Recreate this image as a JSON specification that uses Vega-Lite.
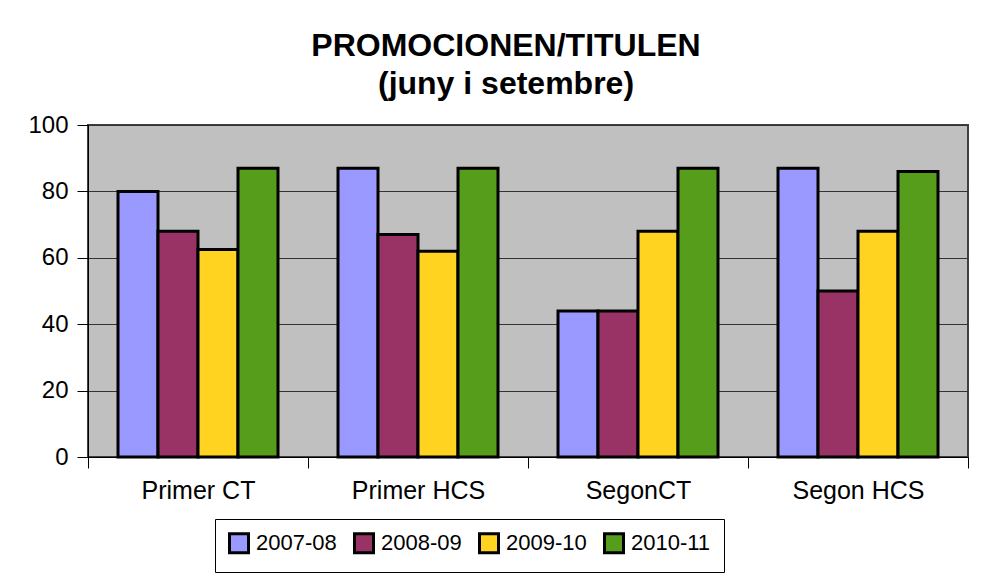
{
  "$schema": "https://vega.github.io/schema/vega-lite/v6.json",
  "width": 880,
  "height": 332,
  "autosize": {"type": "none"},
  "padding": {"left": 88, "top": 125, "right": 28, "bottom": 122},
  "background": "white",
  "title": {
    "text": ["PROMOCIONEN/TITULEN", "(juny i setembre)"],
    "font": "Liberation Sans",
    "fontSize": 32,
    "fontWeight": "bold",
    "lineHeight": 38,
    "color": "black",
    "anchor": "middle",
    "dx": -22,
    "offset": 12
  },
  "data": {
    "values": [
      {"cat": "Primer CT", "series": "2007-08", "value": 80},
      {"cat": "Primer CT", "series": "2008-09", "value": 68},
      {"cat": "Primer CT", "series": "2009-10", "value": 62.5},
      {"cat": "Primer CT", "series": "2010-11", "value": 87},
      {"cat": "Primer HCS", "series": "2007-08", "value": 87},
      {"cat": "Primer HCS", "series": "2008-09", "value": 67},
      {"cat": "Primer HCS", "series": "2009-10", "value": 62},
      {"cat": "Primer HCS", "series": "2010-11", "value": 87},
      {"cat": "SegonCT", "series": "2007-08", "value": 44},
      {"cat": "SegonCT", "series": "2008-09", "value": 44},
      {"cat": "SegonCT", "series": "2009-10", "value": 68},
      {"cat": "SegonCT", "series": "2010-11", "value": 87},
      {"cat": "Segon HCS", "series": "2007-08", "value": 87},
      {"cat": "Segon HCS", "series": "2008-09", "value": 50},
      {"cat": "Segon HCS", "series": "2009-10", "value": 68},
      {"cat": "Segon HCS", "series": "2010-11", "value": 86}
    ]
  },
  "mark": {"type": "bar", "stroke": "black"},
  "encoding": {
    "x": {
      "field": "cat",
      "type": "nominal",
      "sort": null,
      "scale": {"paddingInner": 0, "paddingOuter": 0},
      "axis": {
        "title": null,
        "labelAngle": 0,
        "tickBand": "extent",
        "tickSize": 11,
        "tickColor": "black",
        "domainColor": "black",
        "labelFontSize": 25,
        "labelFont": "Liberation Sans",
        "labelColor": "black",
        "labelPadding": 10
      }
    },
    "xOffset": {
      "field": "series",
      "type": "nominal",
      "scale": {"paddingInner": 0, "paddingOuter": 0.75}
    },
    "y": {
      "field": "value",
      "type": "quantitative",
      "scale": {"domain": [0, 100], "nice": false},
      "axis": {
        "title": null,
        "values": [0, 20, 40, 60, 80, 100],
        "grid": true,
        "gridColor": "#333333",
        "gridWidth": 1.2,
        "tickSize": 11,
        "tickColor": "black",
        "domainColor": "black",
        "labelFontSize": 24,
        "labelFont": "Liberation Sans",
        "labelColor": "black",
        "labelPadding": 9
      }
    },
    "fill": {
      "field": "series",
      "type": "nominal",
      "scale": {"range": ["#9999FF", "#993366", "#FFD320", "#579D1C"]},
      "legend": {
        "title": null,
        "orient": "none",
        "direction": "horizontal",
        "legendX": 127,
        "legendY": 394,
        "fillColor": "white",
        "strokeColor": "black",
        "padding": 13,
        "symbolType": "square",
        "symbolSize": 361,
        "symbolStrokeColor": "black",
        "symbolStrokeWidth": 1.5,
        "labelFontSize": 22,
        "labelFont": "Liberation Sans",
        "labelColor": "black",
        "labelOffset": 6,
        "columnPadding": 11,
        "labelLimit": 200
      }
    },
    "strokeWidth": {
      "field": "series",
      "type": "nominal",
      "scale": {"range": [3, 3, 1.2, 1.2]},
      "legend": null
    }
  },
  "config": {
    "view": {"fill": "#C0C0C0", "stroke": "#404040", "strokeWidth": 2}
  }
}
